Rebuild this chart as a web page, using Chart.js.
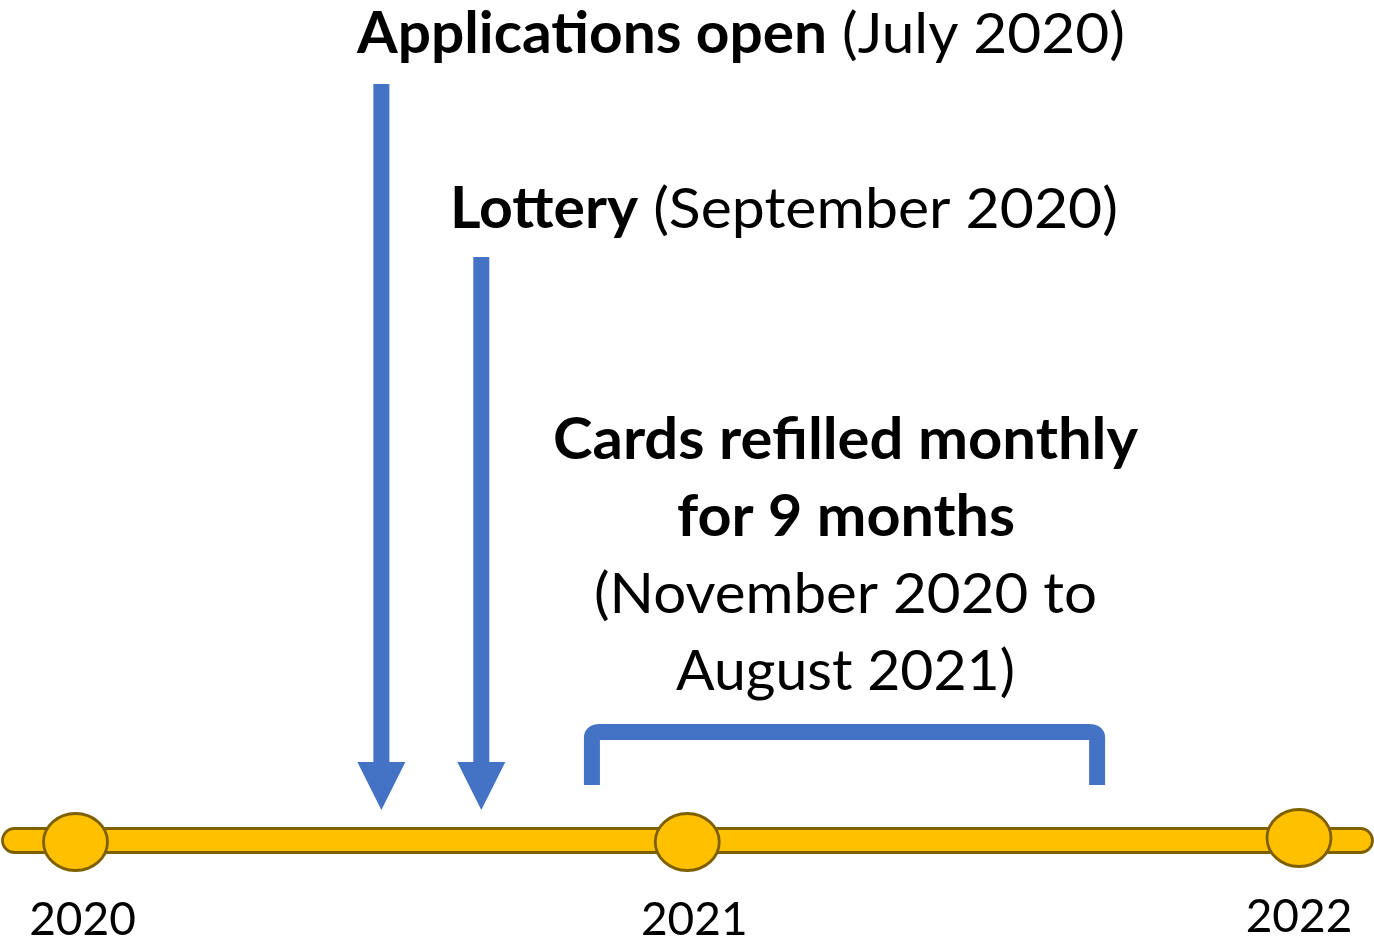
<!DOCTYPE html>
<html>
<head>
<meta charset="utf-8">
<script src="https://cdn.jsdelivr.net/npm/chart.js@4"></script>
<style>
html,body{margin:0;padding:0;background:#fff;}
#wrap{width:1374px;height:940px;}
</style>
</head>
<body>
<div id="wrap"><canvas id="c" width="1374" height="940"></canvas></div>
<script>
// ---- data (months since January 2020) ----
const yearLabels = ['2020', '2021', '2022'];
const yearMonths = [0, 12, 24];
const eventBold = ['Applications open', 'Lottery'];
const eventRest = [' (July 2020)', ' (September 2020)'];
const eventMonths = [6, 7.96];
const periodMonths = [10.13, 20.04];
const periodLines = [
  ['Cards refilled monthly', true],
  ['for 9 months', true],
  ['(November 2020 to', false],
  ['August 2021)', false]
];

const BLUE = '#4472C4', GOLD = '#FFC000', GOLD_EDGE = '#7F6000';
const FONT = 'Lato, "Open Sans", sans-serif';

function fitText(ctx, runs, cx, baseline, size, targetW) {
  let w = 0;
  const widths = runs.map(r => {
    ctx.font = (r[1] ? 'bold ' : '') + size + 'px ' + FONT;
    const m = ctx.measureText(r[0]).width; w += m; return m;
  });
  const sx = targetW / w;
  ctx.save();
  ctx.translate(cx - targetW / 2, baseline);
  ctx.scale(sx, 1);
  ctx.fillStyle = '#000';
  ctx.textBaseline = 'alphabetic';
  ctx.textAlign = 'left';
  let x = 0;
  runs.forEach((r, i) => {
    ctx.font = (r[1] ? 'bold ' : '') + size + 'px ' + FONT;
    ctx.fillText(r[0], x, 0);
    x += widths[i];
  });
  ctx.restore();
}

const timelinePlugin = {
  id: 'timeline',
  afterDraw(chart) {
    const ctx = chart.ctx;
    const xs = chart.scales.x, ys = chart.scales.y;
    const X = v => xs.getPixelForValue(v);
    const Y = v => ys.getPixelForValue(v);
    const area = chart.chartArea;

    // timeline bar
    const lineY = Y(840.5), lineH = 24;
    ctx.save();
    ctx.beginPath();
    ctx.roundRect(area.left + 2.5, lineY - lineH / 2, area.right - area.left - 4, lineH, lineH / 2);
    ctx.fillStyle = GOLD; ctx.fill();
    ctx.lineWidth = 2.8; ctx.strokeStyle = GOLD_EDGE; ctx.stroke();

    // year circles + labels
    yearMonths.forEach((m, i) => {
      const cx = X(m);
      ctx.beginPath();
      ctx.ellipse(cx, Y(i === 2 ? 838 : 842), 32, 28.5, 0, 0, Math.PI * 2);
      ctx.fillStyle = GOLD; ctx.fill();
      ctx.lineWidth = 2.8; ctx.strokeStyle = GOLD_EDGE; ctx.stroke();
      ctx.font = '46px ' + FONT;
      ctx.fillStyle = '#000';
      ctx.textAlign = 'center';
      ctx.textBaseline = 'alphabetic';
      const off = i === 2 ? 0 : 7;
      ctx.fillText(yearLabels[i], cx + off, Y(i === 2 ? 932 : 935));
    });

    // arrows
    const arrowTops = [84, 257];
    eventMonths.forEach((m, i) => {
      const cx = X(m);
      const top = Y(arrowTops[i]), headTop = Y(762), tip = Y(810);
      ctx.fillStyle = BLUE;
      ctx.fillRect(cx - 8, top, 16, headTop - top + 1);
      ctx.beginPath();
      ctx.moveTo(cx - 24, headTop);
      ctx.lineTo(cx + 24, headTop);
      ctx.lineTo(cx, tip);
      ctx.closePath();
      ctx.fill();
    });

    // bracket
    const bx1 = X(periodMonths[0]), bx2 = X(periodMonths[1]);
    const bTop = Y(732), bBot = Y(785);
    ctx.beginPath();
    ctx.moveTo(bx1, bBot);
    ctx.lineTo(bx1, bTop + 6);
    ctx.quadraticCurveTo(bx1, bTop, bx1 + 8, bTop);
    ctx.lineTo(bx2 - 8, bTop);
    ctx.quadraticCurveTo(bx2, bTop, bx2, bTop + 6);
    ctx.lineTo(bx2, bBot);
    ctx.lineWidth = 16; ctx.lineCap = 'butt'; ctx.lineJoin = 'round';
    ctx.strokeStyle = BLUE; ctx.stroke();
    ctx.restore();

    // texts
    fitText(ctx, [[eventBold[0], true], [eventRest[0], false]], 741, Y(53), 57, 768);
    fitText(ctx, [[eventBold[1], true], [eventRest[1], false]], 784, Y(228), 57, 668);
    const pBase = [459, 536, 613, 690];
    const pW = [585, 338, 503, 339];
    const pC = [845.5, 846, 845.5, 845.5];
    periodLines.forEach((l, i) => fitText(ctx, [[l[0], l[1]]], pC[i], Y(pBase[i]), 57, pW[i]));
  }
};

const monthPx = (1299 - 75.5) / 24;
new Chart(document.getElementById('c'), {
  type: 'scatter',
  data: { datasets: [{ data: yearMonths.map(m => ({ x: m, y: 841.5 })), pointRadius: 0, showLine: false }] },
  options: {
    responsive: false,
    animation: false,
    devicePixelRatio: 1,
    layout: { padding: 0 },
    plugins: { legend: { display: false }, tooltip: { enabled: false } },
    scales: {
      x: { type: 'linear', display: false, min: -75.5 / monthPx, max: (1374 - 75.5) / monthPx },
      y: { type: 'linear', display: false, min: 0, max: 940, reverse: true }
    }
  },
  plugins: [timelinePlugin]
});
</script>
</body>
</html>
